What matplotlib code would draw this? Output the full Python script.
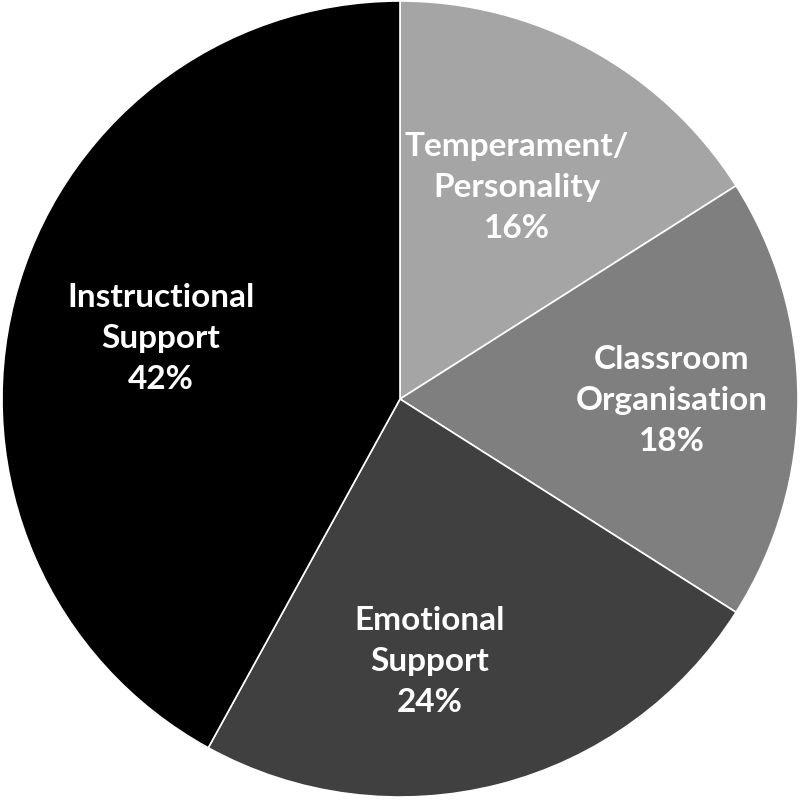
import numpy as np
import matplotlib
matplotlib.use("Agg")
import matplotlib.pyplot as plt

# slices, clockwise from 12 o'clock
categories = ["Temperament/\nPersonality", "Classroom\nOrganisation",
              "Emotional\nSupport", "Instructional\nSupport"]
shares = [16, 18, 24, 42]
colours = ["#a5a5a5", "#7f7f7f", "#404040", "#000000"]
label_radius = [0.61, 0.683, 0.66, 0.62]
label_nudge = [0, 0, -8, 0]   # degrees

plt.rcParams['font.family'] = ['Lato', 'DejaVu Sans']

fig = plt.figure(figsize=(8.0, 8.04), dpi=100)
ax = fig.add_axes([0, 0, 1, 1])

wedges, _ = ax.pie(shares, colors=colours, startangle=90, counterclock=False,
                   radius=1.0, wedgeprops=dict(edgecolor="white", linewidth=1.2))

for w, cat, val, r, d in zip(wedges, categories, shares, label_radius, label_nudge):
    mid = np.deg2rad((w.theta1 + w.theta2) / 2 + d)
    ax.text(r * np.cos(mid), r * np.sin(mid), "%s\n%d%%" % (cat, val),
            ha="center", va="center", color="white", fontsize=24,
            fontweight="bold", linespacing=1.5)

ax.set_xlim(-1.005, 1.005)
ax.set_ylim(-1.015, 1.005)
ax.set_aspect("equal")
ax.axis("off")

fig.savefig("out.png", dpi=100, facecolor="white")
